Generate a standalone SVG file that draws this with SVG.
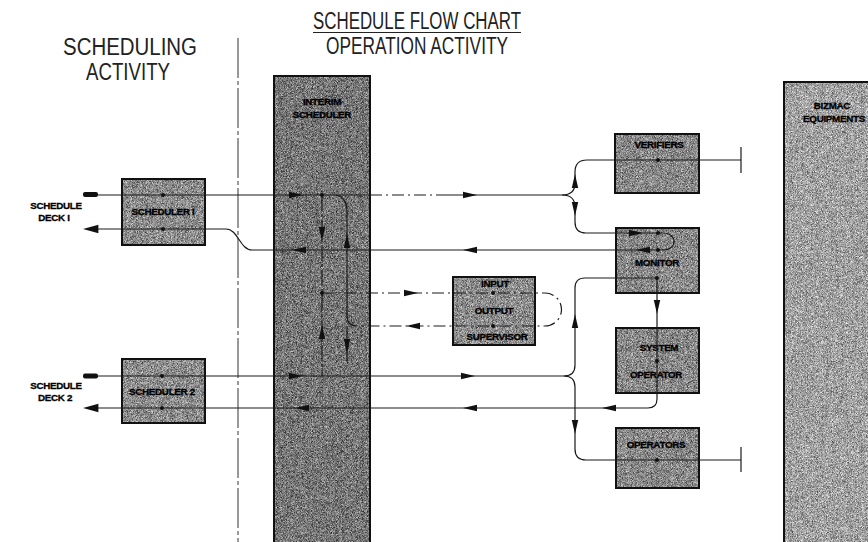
<svg xmlns="http://www.w3.org/2000/svg" xmlns:xlink="http://www.w3.org/1999/xlink" width="868" height="542" viewBox="0 0 868 542">
<style>
.box{fill:none;stroke:#111;stroke-width:2}
.fl{filter:url(#grain)}
.lbl{font-family:"Liberation Sans",Arial,sans-serif;font-weight:bold;font-size:9.8px;fill:#000;stroke:#000;stroke-width:0.3px;text-anchor:middle;letter-spacing:-0.3px}
.ttl{font-family:"Liberation Sans Narrow","Liberation Sans",sans-serif;font-size:23px;fill:#222;text-anchor:middle}
.w{fill:none;stroke:#1a1a1a;stroke-width:1.2}
.d{stroke-dasharray:12 4 2 4}
.dot{fill:#111}
.ah{fill:#111}
</style>
<defs>
<filter id="grain" x="0" y="0" width="1" height="1" color-interpolation-filters="sRGB">
<feTurbulence type="fractalNoise" baseFrequency="2.2" numOctaves="1" seed="4" result="t"/>
<feColorMatrix in="t" type="matrix" values="1 0 0 0 0  1 0 0 0 0  1 0 0 0 0  0 0 0 0 1" result="g"/>
<feComposite in="SourceGraphic" in2="g" operator="arithmetic" k1="0" k2="1" k3="1.1" k4="-0.55" result="m"/>
<feComposite in="m" in2="SourceGraphic" operator="in"/>
</filter>
<path id="ah" d="M0,0 L-14,-3.2 L-14,3.2 Z"/>
</defs>
<rect width="868" height="542" fill="#fff"/>

<g id="titles">
<text class="ttl" x="417" y="29" textLength="208" lengthAdjust="spacingAndGlyphs">SCHEDULE  FLOW  CHART</text>
<line x1="313" y1="32.5" x2="521" y2="32.5" stroke="#222" stroke-width="1"/>
<text class="ttl" x="417" y="54" textLength="182" lengthAdjust="spacingAndGlyphs">OPERATION  ACTIVITY</text>
<text class="ttl" x="130" y="55" textLength="134" lengthAdjust="spacingAndGlyphs">SCHEDULING</text>
<text class="ttl" x="128" y="80" textLength="84" lengthAdjust="spacingAndGlyphs">ACTIVITY</text>
<line x1="238" y1="38" x2="238" y2="542" stroke="#333" stroke-width="1" stroke-dasharray="40 3 4 3"/>
</g>

<g id="interim">
<rect class="fl" x="274" y="76" width="96" height="470" fill="#767676"/>
<rect class="box" x="274" y="76" width="96" height="470" stroke-width="2.5"/>
<text class="lbl" x="322" y="105">INTERIM</text>
<text class="lbl" x="322" y="118">SCHEDULER</text>
</g>

<g id="bizmac">
<rect class="fl" x="784" y="82" width="90" height="464" fill="#a0a0a0"/>
<rect class="box" x="784" y="82" width="90" height="464"/>
<text class="lbl" x="832" y="109">BIZMAC</text>
<text class="lbl" x="834" y="122">EQUIPMENTS</text>
</g>

<g id="scheduler1">
<rect class="fl" x="122" y="179" width="83" height="66" fill="#8c8c8c"/>
<rect class="box" x="122" y="179" width="83" height="66"/>
<text class="lbl" x="163" y="215">SCHEDULER I</text>
</g>

<g id="scheduler2">
<rect class="fl" x="122" y="359" width="83" height="64" fill="#8c8c8c"/>
<rect class="box" x="122" y="359" width="83" height="64"/>
<text class="lbl" x="162" y="395">SCHEDULER 2</text>
</g>

<g id="deck1">
<text class="lbl" x="56" y="209">SCHEDULE</text>
<text class="lbl" x="54" y="221">DECK I</text>
</g>
<g id="deck2">
<text class="lbl" x="56" y="389">SCHEDULE</text>
<text class="lbl" x="55" y="401">DECK 2</text>
</g>

<g id="verifiers">
<rect class="fl" x="615" y="134" width="84" height="59" fill="#888888"/>
<rect class="box" x="615" y="134" width="84" height="59"/>
<text class="lbl" x="659" y="148">VERIFIERS</text>
</g>

<g id="monitor">
<rect class="fl" x="616" y="228" width="83" height="65" fill="#888888"/>
<rect class="box" x="616" y="228" width="83" height="65"/>
<text class="lbl" x="657" y="266">MONITOR</text>
</g>

<g id="system-operator">
<rect class="fl" x="616" y="328" width="83" height="65" fill="#888888"/>
<rect class="box" x="616" y="328" width="83" height="65"/>
<text class="lbl" x="659" y="351">SYSTEM</text>
<text class="lbl" x="656" y="378">OPERATOR</text>
</g>

<g id="operators">
<rect class="fl" x="616" y="428" width="83" height="60" fill="#888888"/>
<rect class="box" x="616" y="428" width="83" height="60"/>
<text class="lbl" x="656" y="448">OPERATORS</text>
</g>

<g id="io-supervisor">
<rect class="fl" x="453" y="277" width="82" height="68" fill="#8c8c8c"/>
<rect class="box" x="453" y="277" width="82" height="68"/>
<text class="lbl" x="495" y="287">INPUT</text>
<text class="lbl" x="494" y="314">OUTPUT</text>
<text class="lbl" x="497" y="340">SUPERVISOR</text>
</g>

<g id="connectors">
<rect x="83" y="192" width="15" height="5" rx="2" class="dot"/>
<path class="w" d="M98,195 L370,195"/>
<path class="w d" d="M370,195 L440,195"/>
<path class="w" d="M440,195 L562,195 Q575,195 575,183 L575,172 Q575,160 587,160 L741,160"/>
<path class="w" d="M562,195 Q575,195 575,207 L575,222 Q575,233 586,233 L664,233 A10,8.5 0 0 1 664,250 L252,250 C240,250 238,229 226,229 L97,229"/>
<path class="w" d="M741,147 L741,173" stroke-width="1.6"/>
<rect x="83" y="373.5" width="15" height="5" rx="2" class="dot"/>
<path class="w" d="M98,376 L564,376 Q575,376 575,365 L575,288 Q575,278 585,278 L657,278"/>
<path class="w" d="M564,376 Q575,376 575,387 L575,449 Q575,460 586,460 L741,460"/>
<path class="w" d="M741,447 L741,472" stroke-width="1.6"/>
<path class="w" d="M657,278 L657,399 Q657,408 648,408 L97,408"/>
<path class="w" d="M322,195 L322,376" stroke-dasharray="16 3 3 3"/>
<path class="w" d="M336,195 Q347,197 347,212 L347,316 Q347,326 357,326"/>
<path class="w" d="M347,326 L347,362"/>
<path class="w d" d="M322,293 L545,293 A16.5,16.5 0 0 1 545,326 L357,326"/>
<use href="#ah" class="ah" transform="translate(303,195)"/>
<use href="#ah" class="ah" transform="translate(477,195)"/>
<use href="#ah" class="ah" transform="translate(575,174) rotate(-90)"/>
<use href="#ah" class="ah" transform="translate(575,216) rotate(90)"/>
<use href="#ah" class="ah" transform="translate(643,233)"/>
<use href="#ah" class="ah" transform="translate(636,250) rotate(180)"/>
<use href="#ah" class="ah" transform="translate(463,250) rotate(180)"/>
<use href="#ah" class="ah" transform="translate(292,250) rotate(180)"/>
<use href="#ah" transform="translate(83,229) rotate(180) scale(1.1,1.3)" class="ah"/>
<use href="#ah" class="ah" transform="translate(322,241) rotate(90)"/>
<use href="#ah" class="ah" transform="translate(322,325) rotate(-90)"/>
<use href="#ah" class="ah" transform="translate(347,234) rotate(-90)"/>
<use href="#ah" class="ah" transform="translate(347,353) rotate(90)"/>
<use href="#ah" class="ah" transform="translate(418,293)"/>
<use href="#ah" class="ah" transform="translate(406,326) rotate(180)"/>
<use href="#ah" class="ah" transform="translate(303,376)"/>
<use href="#ah" class="ah" transform="translate(475,376)"/>
<use href="#ah" class="ah" transform="translate(575,314) rotate(-90)"/>
<use href="#ah" class="ah" transform="translate(575,434) rotate(90)"/>
<use href="#ah" class="ah" transform="translate(657,314) rotate(90)"/>
<use href="#ah" class="ah" transform="translate(602,408) rotate(180)"/>
<use href="#ah" class="ah" transform="translate(463,408) rotate(180)"/>
<use href="#ah" class="ah" transform="translate(295,408) rotate(180)"/>
<use href="#ah" transform="translate(83,408) rotate(180) scale(1.1,1.3)" class="ah"/>
<circle class="dot" cx="163" cy="195" r="2"/>
<circle class="dot" cx="163" cy="229" r="2"/>
<circle class="dot" cx="162" cy="376" r="2"/>
<circle class="dot" cx="162" cy="408" r="2"/>
<circle class="dot" cx="322" cy="195" r="2"/>
<circle class="dot" cx="322" cy="293" r="2"/>
<circle class="dot" cx="658" cy="160" r="2"/>
<circle class="dot" cx="658" cy="233" r="2"/>
<circle class="dot" cx="658" cy="250" r="2"/>
<circle class="dot" cx="657" cy="278" r="2"/>
<circle class="dot" cx="657" cy="361" r="2"/>
<circle class="dot" cx="657" cy="460" r="2"/>
<circle class="dot" cx="493" cy="293" r="2"/>
<circle class="dot" cx="493" cy="326" r="2"/>
</g>
</svg>
